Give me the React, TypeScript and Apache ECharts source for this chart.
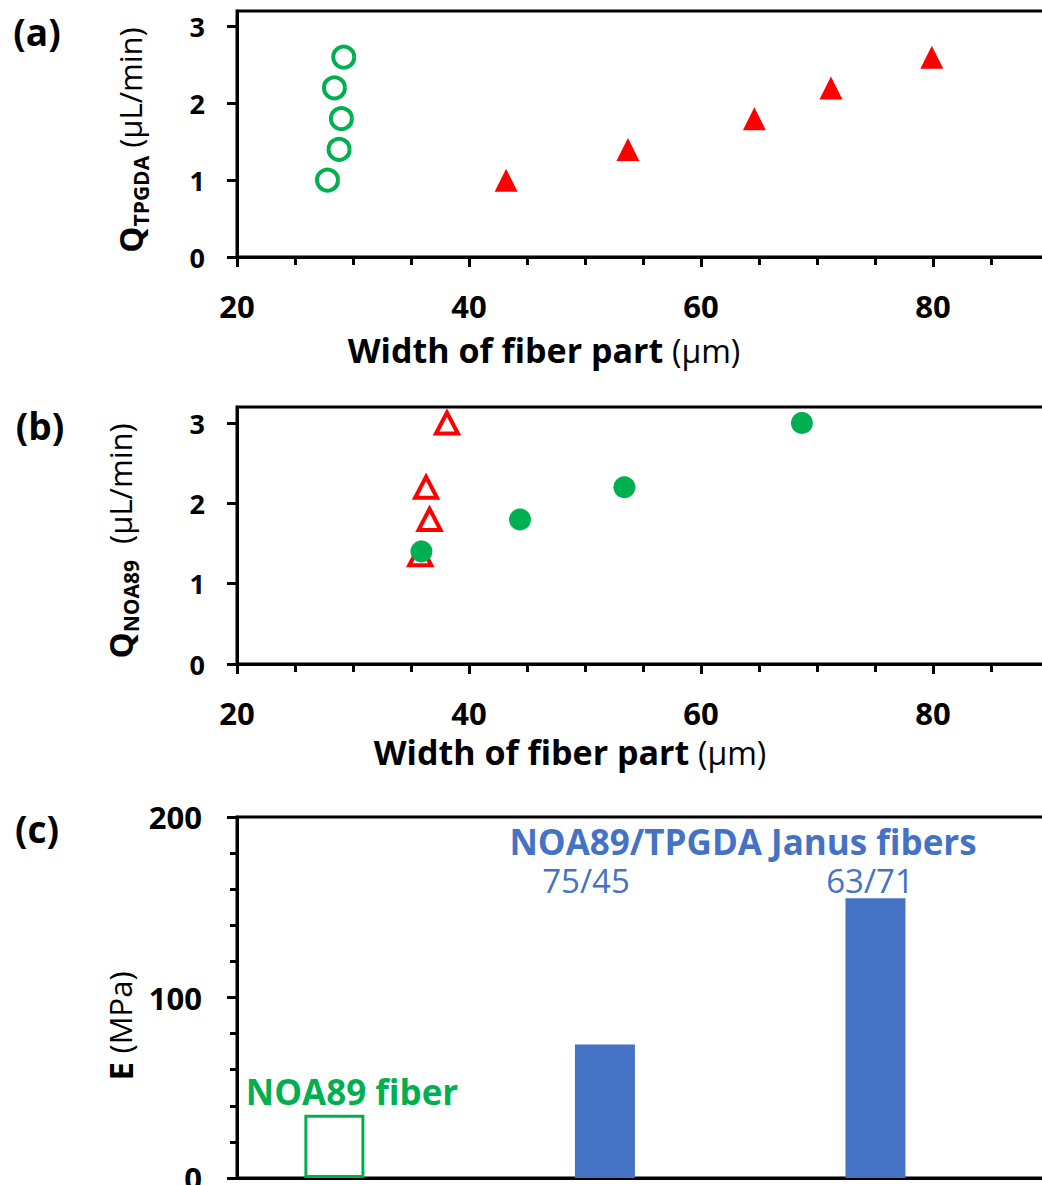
import React, { useEffect, useRef } from "react";
import * as echarts from "echarts";

const FONT = "'Open Sans', 'DejaVu Sans', sans-serif";
const GREEN = "#00B050";
const RED = "#FF0000";
const BLUE = "#4472C4";
const BLACK = "#000000";

// Panel (a): Q_TPGDA vs width of fiber part
const aCircleWidth = [27.8, 28.8, 29.0, 28.4, 29.2];
const aCircleQ = [1.0, 1.4, 1.8, 2.2, 2.6];
const aTriWidth = [43.2, 53.7, 64.6, 71.2, 79.9];
const aTriQ = [1.0, 1.4, 1.8, 2.2, 2.6];

// Panel (b): Q_NOA89 vs width of fiber part
const bTriWidth = [35.8, 36.6, 36.3, 38.1];
const bTriQ = [1.36, 1.8, 2.2, 3.0];
const bDotWidth = [35.9, 44.4, 53.4, 68.7];
const bDotQ = [1.4, 1.8, 2.2, 3.0];

// Panel (c): Young's modulus
const cCategories = ["NOA89 fiber", "75/45", "63/71"];
const cPositions = [1, 2, 3];
const cModulus = [35, 74, 155];

// Tick values
const qTicks = [0, 1, 2, 3];
const qMinorTicks = [0.5, 1.5, 2.5];

const zip = (xs: number[], ys: number[]) => xs.map((x, i) => [x, ys[i]]);

const lineStyle = { color: BLACK, width: 3 };

function widthAxis(gridIndex: number) {
  return {
    type: "value",
    gridIndex,
    min: 20,
    max: 100,
    interval: 20,
    axisLine: { show: true, onZero: false, lineStyle },
    axisTick: { show: true, length: 10, lineStyle },
    minorTick: { show: true, splitNumber: 4, length: 8, lineStyle },
    axisLabel: {
      fontSize: 31,
      fontWeight: "bold",
      color: BLACK,
      fontFamily: FONT,
      margin: 33,
      showMaxLabel: false,
    },
    splitLine: { show: false },
    minorSplitLine: { show: false },
  };
}

function qAxisMajor(gridIndex: number) {
  return {
    type: "value",
    gridIndex,
    min: 0,
    max: 3.2,
    axisLine: { show: true, onZero: false, lineStyle },
    axisTick: { show: true, length: 10, lineStyle, customValues: qTicks },
    axisLabel: {
      customValues: qTicks,
      fontSize: 27,
      fontWeight: "bold",
      color: BLACK,
      fontFamily: FONT,
      margin: 32,
    },
    splitLine: { show: false },
  };
}

function qAxisMinor(gridIndex: number) {
  return {
    type: "value",
    gridIndex,
    min: 0,
    max: 3.2,
    axisLine: { show: false },
    axisTick: { show: true, length: 7, lineStyle, customValues: qMinorTicks },
    axisLabel: { show: false },
    splitLine: { show: false },
  };
}

function titleText(
  x: number,
  y: number,
  text: string,
  rich: Record<string, any>,
  rotation = 0
) {
  return {
    type: "text",
    x,
    y,
    rotation,
    style: {
      text,
      align: "center",
      verticalAlign: "middle",
      fill: BLACK,
      fontFamily: FONT,
      rich,
    },
  };
}

const qRich = {
  q: { fontSize: 33, fontWeight: "bold", fontFamily: FONT, color: BLACK, lineHeight: 42 },
  s: {
    fontSize: 21,
    fontWeight: "bold",
    fontFamily: FONT,
    color: BLACK,
    lineHeight: 21,
    verticalAlign: "bottom",
  },
  n: { fontSize: 31, fontWeight: "normal", fontFamily: FONT, color: BLACK },
};

const xRich = {
  b: { fontSize: 34, fontWeight: "bold", fontFamily: FONT, color: BLACK, lineHeight: 34 },
  n: { fontSize: 32, fontWeight: "normal", fontFamily: FONT, color: BLACK, lineHeight: 34 },
};

function letter(x: number, y: number, text: string) {
  return {
    type: "text",
    x,
    y,
    style: {
      text,
      align: "center",
      verticalAlign: "middle",
      fill: BLACK,
      fontSize: 37,
      fontWeight: "bold",
      fontFamily: FONT,
    },
  };
}

export default function App() {
  const ref = useRef<HTMLDivElement>(null);

  useEffect(() => {
    if (!ref.current) return;
    const chart = echarts.init(ref.current, null, { renderer: "svg" });

    const gridBase = {
      show: true,
      borderColor: BLACK,
      borderWidth: 3,
      backgroundColor: "transparent",
      containLabel: false,
      outerBoundsMode: "none",
    };

    const option: any = {
      animation: false,
      backgroundColor: "#ffffff",
      textStyle: { fontFamily: FONT },
      grid: [
        { ...gridBase, left: 237, top: 11, width: 928, height: 246 },
        { ...gridBase, left: 237, top: 407, width: 928, height: 257 },
        { ...gridBase, left: 237, top: 817, width: 909, height: 361 },
      ],
      xAxis: [
        widthAxis(0),
        widthAxis(1),
        {
          type: "value",
          gridIndex: 2,
          min: 0.64,
          max: 4,
          axisLine: { show: true, onZero: false, lineStyle },
          axisTick: { show: false },
          axisLabel: { show: false },
          splitLine: { show: false },
        },
      ],
      yAxis: [
        qAxisMajor(0),
        qAxisMinor(0),
        qAxisMajor(1),
        qAxisMinor(1),
        {
          type: "value",
          gridIndex: 2,
          min: 0,
          max: 200,
          interval: 100,
          axisLine: { show: true, onZero: false, lineStyle },
          axisTick: { show: true, length: 10, lineStyle },
          minorTick: { show: true, splitNumber: 5, length: 7, lineStyle },
          axisLabel: {
            fontSize: 31,
            fontWeight: "bold",
            color: BLACK,
            fontFamily: FONT,
            margin: 35,
          },
          splitLine: { show: false },
          minorSplitLine: { show: false },
        },
      ],
      series: [
        {
          name: "TPGDA part (open)",
          type: "scatter",
          xAxisIndex: 0,
          yAxisIndex: 0,
          data: zip(aCircleWidth, aCircleQ),
          symbol: "circle",
          symbolSize: 21,
          itemStyle: { color: "#ffffff", borderColor: GREEN, borderWidth: 4, opacity: 1 },
        },
        {
          name: "Janus fiber width (a)",
          type: "scatter",
          xAxisIndex: 0,
          yAxisIndex: 0,
          data: zip(aTriWidth, aTriQ),
          symbol: "triangle",
          symbolSize: 23,
          itemStyle: { color: RED, opacity: 1 },
        },
        {
          name: "NOA89 part (open)",
          type: "scatter",
          xAxisIndex: 1,
          yAxisIndex: 2,
          data: zip(bTriWidth, bTriQ),
          symbol: "triangle",
          symbolSize: [22, 21],
          itemStyle: { color: "#ffffff", borderColor: RED, borderWidth: 4, opacity: 1 },
        },
        {
          name: "Janus fiber width (b)",
          type: "scatter",
          xAxisIndex: 1,
          yAxisIndex: 2,
          data: zip(bDotWidth, bDotQ),
          symbol: "circle",
          symbolSize: 22,
          itemStyle: { color: GREEN, opacity: 1 },
        },
        {
          name: "E",
          type: "bar",
          xAxisIndex: 2,
          yAxisIndex: 4,
          barWidth: 60,
          data: cPositions.map((p, i) => ({
            name: cCategories[i],
            value: [p, cModulus[i]],
            itemStyle:
              i === 0
                ? { color: "#ffffff", borderColor: GREEN, borderWidth: 3 }
                : { color: BLUE },
          })),
        },
      ],
      graphic: [
        // panel letters
        letter(37, 31, "(a)"),
        letter(40, 425, "(b)"),
        letter(37, 828, "(c)"),
        // axis titles
        titleText(130, 140, "{q|Q}{s|TPGDA}{n| (µL/min)}", qRich, Math.PI / 2),
        titleText(120, 541, "{q|Q}{s|NOA89}{n|  (µL/min)}", qRich, Math.PI / 2),
        titleText(120, 1026, "{q|E }{n|(MPa)}", qRich, Math.PI / 2),
        titleText(544, 350, "{b|Width of fiber part }{n|(µm)}", xRich),
        titleText(570, 752, "{b|Width of fiber part }{n|(µm)}", xRich),
        // bar annotations
        {
          type: "text",
          x: 743,
          y: 841,
          style: { text: "NOA89/TPGDA Janus fibers", align: "center", verticalAlign: "middle", fill: BLUE, fontSize: 35, fontWeight: "bold", fontFamily: FONT, lineHeight: 34 },
        },
        {
          type: "text",
          x: 586,
          y: 880,
          style: { text: cCategories[1], align: "center", verticalAlign: "middle", fill: BLUE, fontSize: 33, fontWeight: "normal", fontFamily: FONT, lineHeight: 30 },
        },
        {
          type: "text",
          x: 870,
          y: 880,
          style: { text: cCategories[2], align: "center", verticalAlign: "middle", fill: BLUE, fontSize: 33, fontWeight: "normal", fontFamily: FONT, lineHeight: 30 },
        },
        {
          type: "text",
          x: 352,
          y: 1091,
          style: { text: cCategories[0], align: "center", verticalAlign: "middle", fill: GREEN, fontSize: 35, fontWeight: "bold", fontFamily: FONT },
        },
      ],
    };

    chart.setOption(option);
    return () => {
      chart.dispose();
    };
  }, []);

  return (
    <div
      style={{
        position: "fixed",
        left: 0,
        top: 0,
        width: 1042,
        height: 1185,
        overflow: "hidden",
        background: "#ffffff",
      }}
    >
      <div ref={ref} style={{ width: 1200, height: 1185 }} />
    </div>
  );
}
